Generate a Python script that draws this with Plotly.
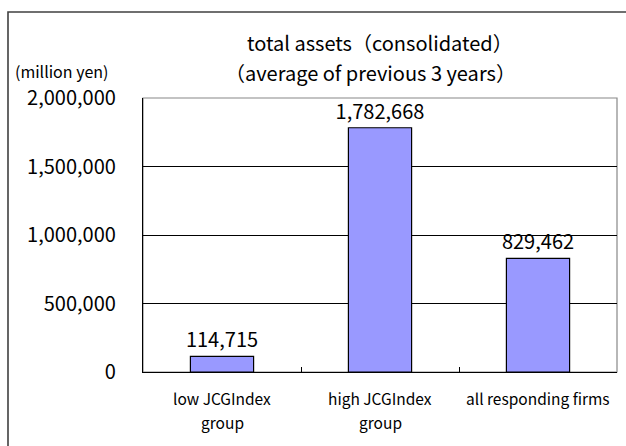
import plotly.graph_objects as go

categories = ["low JCGIndex group", "high JCGIndex group", "all responding firms"]
label_line1 = ["low JCGIndex", "high JCGIndex", "all responding firms"]
label_line2 = ["group", "group", ""]
values = [114715, 1782668, 829462]
y_ticks = [0, 500000, 1000000, 1500000, 2000000]
y_tick_text = ["0", "500,000", "1,000,000", "1,500,000", "2,000,000"]
title_lines = ["total assets（consolidated）", "（average of previous 3 years）"]
unit_label = "(million yen)"

FONT = "Noto Sans CJK JP"

fig = go.Figure()
fig.add_trace(go.Bar(
    x=categories, y=values,
    width=0.4,
    marker=dict(color="#9999FF", line=dict(color="black", width=1.2)),
    text=[f"{v:,}" for v in values],
    textposition="outside",
    constraintext="none",
    textfont=dict(family=FONT, size=20, color="black"),
    cliponaxis=False,
    showlegend=False,
))

L, R, T, B = 143, 9, 98, 74
W, H = 626, 446
pw, ph = W - L - R, H - T - B

def px_x(x):
    return (x - L) / pw

def px_y(y):
    return (H - B - y) / ph

fig.update_layout(
    width=W, height=H,
    margin=dict(l=L, r=R, t=T, b=B, autoexpand=False),
    paper_bgcolor="white", plot_bgcolor="white",
    font=dict(family=FONT, color="black"),
    uniformtext=dict(mode=False),
    xaxis=dict(
        type="category", showticklabels=False,
        showline=True, linecolor="black", linewidth=1.2,
        ticks="inside", tickson="boundaries", ticklen=5, tickcolor="black",
        showgrid=False,
    ),
    yaxis=dict(
        range=[0, 2000000], tickvals=y_ticks, ticktext=y_tick_text,
        showline=True, linecolor="black", linewidth=1.2,
        showgrid=True, gridcolor="black", gridwidth=1,
        ticks="", tickfont=dict(family=FONT, size=20, color="black"),
        zeroline=False, ticklabelstandoff=22,
    ),
    shapes=[
        dict(type="rect", xref="paper", yref="paper", x0=0, x1=1, y0=0, y1=1,
             line=dict(color="#888888", width=1.2), layer="below"),
        dict(type="rect", xref="paper", yref="paper",
             x0=px_x(8), x1=px_x(640), y0=px_y(12), y1=px_y(460),
             line=dict(color="#404040", width=1.6), fillcolor="rgba(0,0,0,0)"),
    ],
)

def ann(text, x, y, size, xref="paper", xanchor="center"):
    return dict(text=text, xref=xref, yref="paper", x=x, y=y,
                xanchor=xanchor, yanchor="middle", showarrow=False,
                font=dict(family=FONT, size=size, color="black"))

annotations = [
    ann(title_lines[0], px_x(380), px_y(43), 20),
    ann(title_lines[1], px_x(370), px_y(72), 20),
    ann(unit_label, px_x(13), px_y(71), 16, xanchor="left"),
]
for c, l1, l2 in zip(categories, label_line1, label_line2):
    annotations.append(ann(l1, c, px_y(398), 15.5, xref="x"))
    if l2:
        annotations.append(ann(l2, c, px_y(422), 15.5, xref="x"))
fig.update_layout(annotations=annotations)

fig.write_html("out.html", config={"displayModeBar": False},
               post_script="document.body.style.margin='0';")
